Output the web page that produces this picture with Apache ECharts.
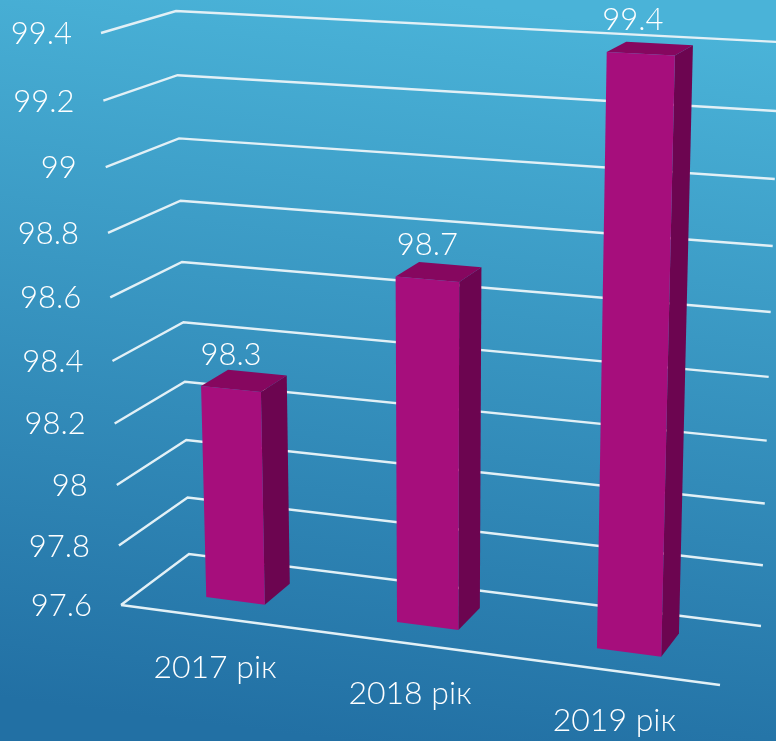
<!DOCTYPE html>
<html><head><meta charset="utf-8">
<style>html,body{margin:0;padding:0;background:#2f86b5}#c{width:776px;height:741px}</style>
<script src="https://cdn.jsdelivr.net/npm/echarts@6/dist/echarts.min.js"></script>
</head><body><div id="c"></div>
<script>
const categories = ['2017 рік', '2018 рік', '2019 рік'];
const values = [98.3, 98.7, 99.4];
const valueLabels = ['98.3', '98.7', '99.4'];
const tickValues = [97.6, 97.8, 98, 98.2, 98.4, 98.6, 98.8, 99, 99.2, 99.4];
const tickLabels = ['97.6', '97.8', '98', '98.2', '98.4', '98.6', '98.8', '99', '99.2', '99.4'];

// the eight corners of the drawn box, in page pixels (f/b = front/back, l/r = left/right, 0/1 = floor/top)
const box = {
  fl0: [121, 605], fr0: [720, 685], bl0: [189, 554], br0: [761, 626],
  fl1: [101, 33],  fr1: [738, 68],  bl1: [176, 11],  br1: [779, 42]
};
const FONT_FAMILY = 'Lato, "Noto Sans", sans-serif';
const TEXT = '#ffffff', LINE = '#e2f0f6';
const FRONT = '#a60e7c', SIDE = '#6c0550', TOP = '#86075f';
const BAR_BAND = 0.312, D_FRONT = 0.32, D_BACK = 0.72;
const labelNudge = [0, 0, -8];

const mix = (a, b, t) => [a[0] + (b[0] - a[0]) * t, a[1] + (b[1] - a[1]) * t];
function project(u0, v0, d) {
  const u = u0 - 0.07 * u0 * (1 - u0);
  const v = v0 - 0.072 * v0 * (1 - v0);
  const f = mix(mix(box.fl0, box.fr0, u), mix(box.fl1, box.fr1, u), v);
  const b = mix(mix(box.bl0, box.br0, u), mix(box.bl1, box.br1, u), v);
  return mix(f, b, d);
}
function unit(params, api, cat, val) {
  const cs = params.coordSys, p = api.coord([cat, val]);
  return [(p[0] - cs.x) / cs.width, 1 - (p[1] - cs.y) / cs.height];
}
const textEl = (text, p, size, align) => ({
  type: 'text',
  style: { text, x: p[0], y: p[1], fill: TEXT, textAlign: align, textVerticalAlign: 'middle',
           font: '300 ' + size + 'px ' + FONT_FAMILY }
});
const poly = (points, fill) => ({ type: 'polygon', shape: { points }, style: { fill } });
const line = (points, w) => ({ type: 'polyline', shape: { points },
  style: { fill: 'none', stroke: LINE, lineWidth: w, lineJoin: 'miter' } });

function renderGrid(params, api) {
  const val = api.value(1), v = unit(params, api, 0, val)[1];
  const a = project(0, v, 0), b = project(0, v, 1), c = project(1, v, 1);
  const children = [line([a, b, c], 2.4),
    textEl(tickLabels[params.dataIndex], [a[0] - 29, a[1] + 1], 31, 'right')];
  if (params.dataIndex === 0) children.push(line([a, project(1, v, 0)], 2.4));
  return { type: 'group', children };
}
function renderBar(params, api) {
  const i = api.value(0), val = api.value(1);
  const cs = params.coordSys;
  const [uc, vt] = unit(params, api, i, val);
  const hw = api.size([1, 0])[0] / cs.width * BAR_BAND / 2;
  const ul = uc - hw, ur = uc + hw;
  const v0 = 0;
  const fl0 = project(ul, v0, D_FRONT), fr0 = project(ur, v0, D_FRONT), br0 = project(ur, v0, D_BACK);
  const fl1 = project(ul, vt, D_FRONT), fr1 = project(ur, vt, D_FRONT),
        br1 = project(ur, vt, D_BACK), bl1 = project(ul, vt, D_BACK);
  const lx = (fl1[0] + fr1[0]) / 2 + labelNudge[i], ly = (fl1[1] + fr1[1]) / 2 - 34;
  const floorPt = project(uc, 0, 0);
  return { type: 'group', children: [
    poly([fr0, br0, br1, fr1], SIDE),
    poly([fl1, bl1, br1, fr1], TOP),
    poly([fl0, fr0, fr1, fl1], FRONT),
    textEl(valueLabels[i], [lx, ly], 31, 'center'),
    textEl(categories[i], [floorPt[0], floorPt[1] + 50], 32, 'center')
  ]};
}

const chart = echarts.init(document.getElementById('c'), null, { renderer: 'canvas' });
chart.setOption({
  animation: false,
  backgroundColor: { type: 'linear', x: 0.56, y: 0, x2: 0.44, y2: 1,
    colorStops: [{ offset: 0, color: '#4ab3d8' }, { offset: 1, color: '#2270a4' }] },
  grid: { left: 0, right: 0, top: 0, bottom: 0 },
  xAxis: { type: 'category', data: categories, show: false },
  yAxis: { type: 'value', min: 97.6, max: 99.4, interval: 0.2, show: false },
  series: [
    { type: 'custom', z: 1, renderItem: renderGrid, encode: { x: 0, y: 1 },
      data: tickValues.map(t => [0, t]), silent: true },
    { type: 'custom', z: 2, renderItem: renderBar, encode: { x: 0, y: 1 },
      data: values.map((t, i) => [i, t]), silent: true }
  ]
});
</script></body></html>
